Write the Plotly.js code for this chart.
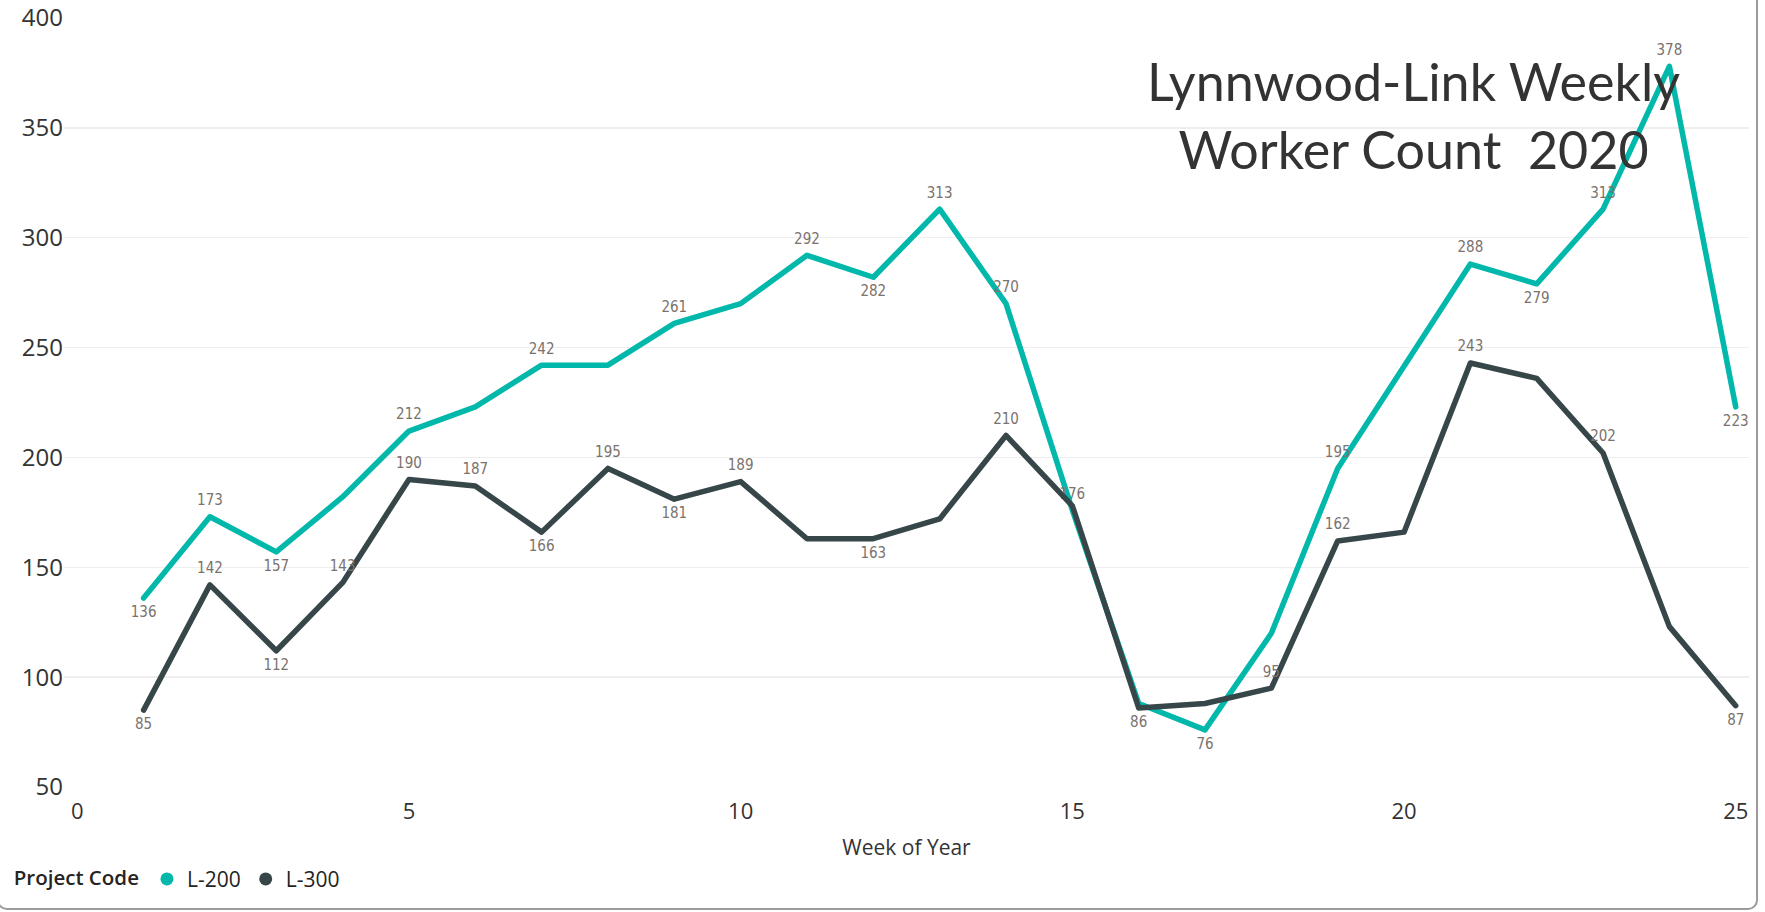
<!DOCTYPE html>
<html>
<head>
<meta charset="utf-8">
<script src="https://cdn.plot.ly/plotly-3.0.1.min.js"></script>
<style>
  html, body { margin: 0; padding: 0; background: #fff; overflow: hidden; }
  #wrap { position: relative; width: 1765px; height: 912px; }
  #chart { position: absolute; left: 0; top: 0; width: 1765px; height: 912px; }
  #frame { position: absolute; left: -3px; top: -14px; width: 1761px; height: 924px;
           border: 2px solid #9c9c9c; border-radius: 10px; box-sizing: border-box; pointer-events: none; }
  .js-line { stroke-linejoin: round; stroke-linecap: round; }
</style>
</head>
<body>
<div id="wrap">
  <div id="chart"></div>
  <div id="frame"></div>
</div>
<script>
// ---- data ----
const weeks = [1,2,3,4,5,6,7,8,9,10,11,12,13,14,15,16,17,18,19,20,21,22,23,24,25];
const l200 = [136,173,157,182,212,223,242,242,261,270,292,282,313,270,176,88,76,120,195,241,288,279,313,378,223];
const l300 = [85,142,112,143,190,187,166,195,181,189,163,163,172,210,178,86,88,95,162,166,243,236,202,123,87];
// which points carry a data label, and where ('t' above, 'b' below, '' none)
const l200LabelPos = ['b','t','b','','t','','t','','t','','t','b','t','t','t','','b','','t','','t','b','t','t','b'];
const l300LabelPos = ['b','t','b','t','t','t','b','t','b','t','','b','','t','','b','','t','t','','t','','t','','b'];
const seriesNames = ['L-200', 'L-300'];
const seriesColors = ['#01B8AA', '#374649'];
const titleLines = ['Lynnwood-Link Weekly', 'Worker Count  2020'];
const xTicks = [0,5,10,15,20,25];
const yTicks = [50,100,150,200,250,300,350,400];

function labels(vals, pos) { return vals.map((v, i) => pos[i] ? String(v) : ''); }
function positions(pos) { return pos.map(p => p === 'b' ? 'bottom center' : 'top center'); }

const labelFont = { family: '"DejaVu Sans Condensed", Roboto, sans-serif', size: 15, color: '#7a726d' };

const traces = [
  {
    x: weeks, y: l200, name: seriesNames[0], type: 'scatter', mode: 'lines+markers+text',
    line: { color: seriesColors[0], width: 5.5 },
    marker: { size: 11, opacity: 0, color: seriesColors[0] },
    text: labels(l200, l200LabelPos), textposition: positions(l200LabelPos),
    textfont: labelFont, showlegend: false, hoverinfo: 'x+y'
  },
  {
    x: weeks, y: l300, name: seriesNames[1], type: 'scatter', mode: 'lines+markers+text',
    line: { color: seriesColors[1], width: 5.5 },
    marker: { size: 11, opacity: 0, color: seriesColors[1] },
    text: labels(l300, l300LabelPos), textposition: positions(l300LabelPos),
    textfont: labelFont, showlegend: false, hoverinfo: 'x+y'
  },
  // legend entries (circle swatches)
  { x: [null], y: [null], name: seriesNames[0], type: 'scatter', mode: 'markers',
    marker: { color: seriesColors[0], size: 13, symbol: 'circle' }, showlegend: true, hoverinfo: 'skip' },
  { x: [null], y: [null], name: seriesNames[1], type: 'scatter', mode: 'markers',
    marker: { color: seriesColors[1], size: 13, symbol: 'circle' }, showlegend: true, hoverinfo: 'skip' }
];

const layout = {
  width: 1765, height: 912,
  margin: { l: 63, r: 16, t: 18, b: 120 },
  paper_bgcolor: '#ffffff', plot_bgcolor: '#ffffff',
  font: { family: '"Open Sans", "Noto Sans", sans-serif', color: '#252423' },
  xaxis: {
    range: [-0.2, 25.2], tickvals: xTicks, showgrid: false, zeroline: false, showline: false,
    ticks: '', tickfont: { size: 22, color: '#333333' }, ticklabelstandoff: 9,
    title: { text: 'Week of Year', font: { size: 21, color: '#333333' }, standoff: 16 }
  },
  yaxis: {
    range: [50, 400], tickvals: yTicks, showgrid: true, gridcolor: '#eeeeee', gridwidth: 1.5,
    zeroline: false, showline: false, ticks: '', tickfont: { size: 24, color: '#333333' },
    ticklabelstandoff: 0
  },
  legend: {
    orientation: 'h', x: -0.031, xanchor: 'left', y: -0.12, yanchor: 'middle',
    title: { text: 'Project Code', side: 'left', font: { size: 20.5, weight: 600, color: '#252423' } },
    font: { size: 21, color: '#252423' }, itemsizing: 'trace', itemwidth: 30, tracegroupgap: 0,
    bgcolor: 'rgba(0,0,0,0)'
  },
  annotations: [{
    xref: 'paper', yref: 'paper', x: 0.8007, y: 0.8734, xanchor: 'center', yanchor: 'middle',
    text: titleLines.join('<br>'), showarrow: false, align: 'center',
    font: { family: 'Lato, "Open Sans", sans-serif', size: 52, weight: 400, color: '#333333' }
  }],
  showlegend: true
};

Plotly.newPlot('chart', traces, layout, { displayModeBar: false, staticPlot: true });
</script>
</body>
</html>
